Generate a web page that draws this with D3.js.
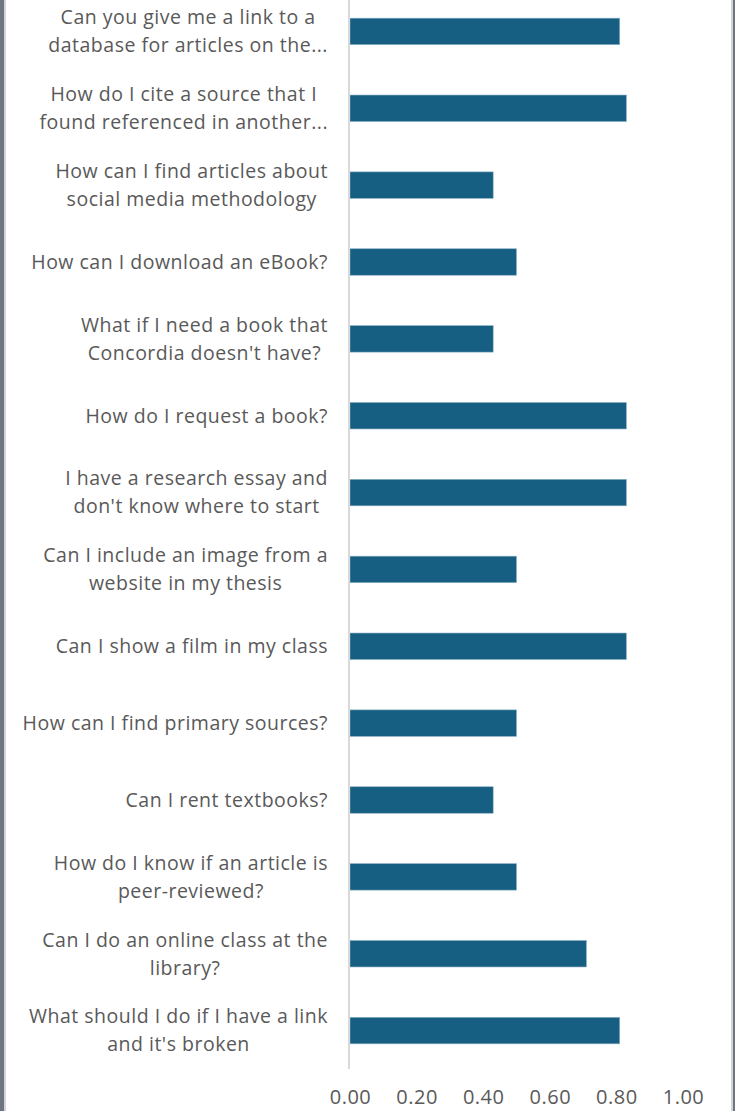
<!DOCTYPE html>
<html>
<head>
<meta charset="utf-8">
<script src="https://cdn.jsdelivr.net/npm/d3@7"></script>
<style>
  body { margin: 0; background: #fff; }
  svg { display: block; }
  .cat text { font-family: "Open Sans", sans-serif; font-size: 19.5px; fill: #595959; letter-spacing: 0.5px; }
  .xaxis text { font-family: "Open Sans", sans-serif; font-size: 20px; fill: #595959; letter-spacing: 0.5px; }
</style>
</head>
<body>
<div class="chart"></div>
<script>
var svgWidth = 735;
var svgHeight = 1111;

// categories, top to bottom (each entry = wrapped lines)
var questions = [
  ["Can you give me a link to a", "database for articles on the..."],
  ["How do I cite a source that I", "found referenced in another..."],
  ["How can I find articles about", "social media methodology"],
  ["How can I download an eBook?"],
  ["What if I need a book that", "Concordia doesn't have?"],
  ["How do I request a book?"],
  ["I have a research essay and", "don't know where to start"],
  ["Can I include an image from a", "website in my thesis"],
  ["Can I show a film in my class"],
  ["How can I find primary sources?"],
  ["Can I rent textbooks?"],
  ["How do I know if an article is", "peer-reviewed?"],
  ["Can I do an online class at the", "library?"],
  ["What should I do if I have a link", "and it's broken"]
];
var scores = [0.81, 0.83, 0.43, 0.50, 0.43, 0.83, 0.83, 0.50, 0.83, 0.50, 0.43, 0.50, 0.71, 0.81];
var tickValues = [0, 0.2, 0.4, 0.6, 0.8, 1.0];

var svg = d3.select(".chart")
  .append("svg")
  .attr("width", svgWidth)
  .attr("height", svgHeight);

// window frame edges
svg.append("rect").attr("x", 0).attr("y", 0).attr("width", 4).attr("height", svgHeight).attr("fill", "#6e7781");
svg.append("rect").attr("x", 4).attr("y", 0).attr("width", 2).attr("height", svgHeight).attr("fill", "#d4d4d4");
svg.append("rect").attr("x", 731).attr("y", 0).attr("width", 2).attr("height", svgHeight).attr("fill", "#d4d4d4");
svg.append("rect").attr("x", 733).attr("y", 0).attr("width", 2).attr("height", svgHeight).attr("fill", "#6e7781");

var ids = questions.map((q, i) => i);

var x = d3.scaleLinear()
  .domain([0, 1])
  .range([350, 683]);

var y = d3.scaleBand()
  .domain(ids)
  .range([-7, 1069])
  .paddingInner(0.655)
  .paddingOuter(0.3275);

// bars
svg.append("g")
  .selectAll("rect")
  .data(scores)
  .enter()
  .append("rect")
  .attr("x", x(0))
  .attr("y", (d, i) => y(i))
  .attr("width", d => x(d) - x(0))
  .attr("height", y.bandwidth())
  .attr("fill", "#175f82")
  .attr("stroke", "#8fb3c7")
  .attr("stroke-width", 0.6);

// vertical axis line
svg.append("line")
  .attr("x1", 349).attr("x2", 349)
  .attr("y1", 0).attr("y2", 1069)
  .attr("stroke", "#d9d9d9")
  .attr("stroke-width", 2);

// category labels: block right-aligned, lines centered
var cat = svg.append("g").attr("class", "cat");
questions.forEach(function (lines, i) {
  var cy = y(i) + y.bandwidth() / 2;
  var g = cat.append("g");
  var lineH = 28;
  var texts = lines.map(function (ln, k) {
    return g.append("text")
      .attr("y", cy + (k - (lines.length - 1) / 2) * lineH)
      .attr("dy", "0.35em")
      .attr("text-anchor", "middle")
      .text(ln);
  });
  var w = d3.max(texts, t => t.node().getComputedTextLength());
  texts.forEach(t => t.attr("x", 328 - w / 2));
});

// x axis labels
var bottomAxis = d3.axisBottom(x)
  .tickValues(tickValues)
  .tickFormat(d3.format(".2f"))
  .tickSize(0)
  .tickPadding(0);

svg.append("g")
  .attr("class", "xaxis")
  .attr("transform", "translate(0, 1087)")
  .call(bottomAxis)
  .call(g => g.select(".domain").remove())
  .selectAll("text")
  .attr("dy", "0.35em")
  .attr("y", 10)
  .attr("font-family", null)
  .attr("font-size", null)
  .attr("fill", null);
</script>
</body>
</html>
